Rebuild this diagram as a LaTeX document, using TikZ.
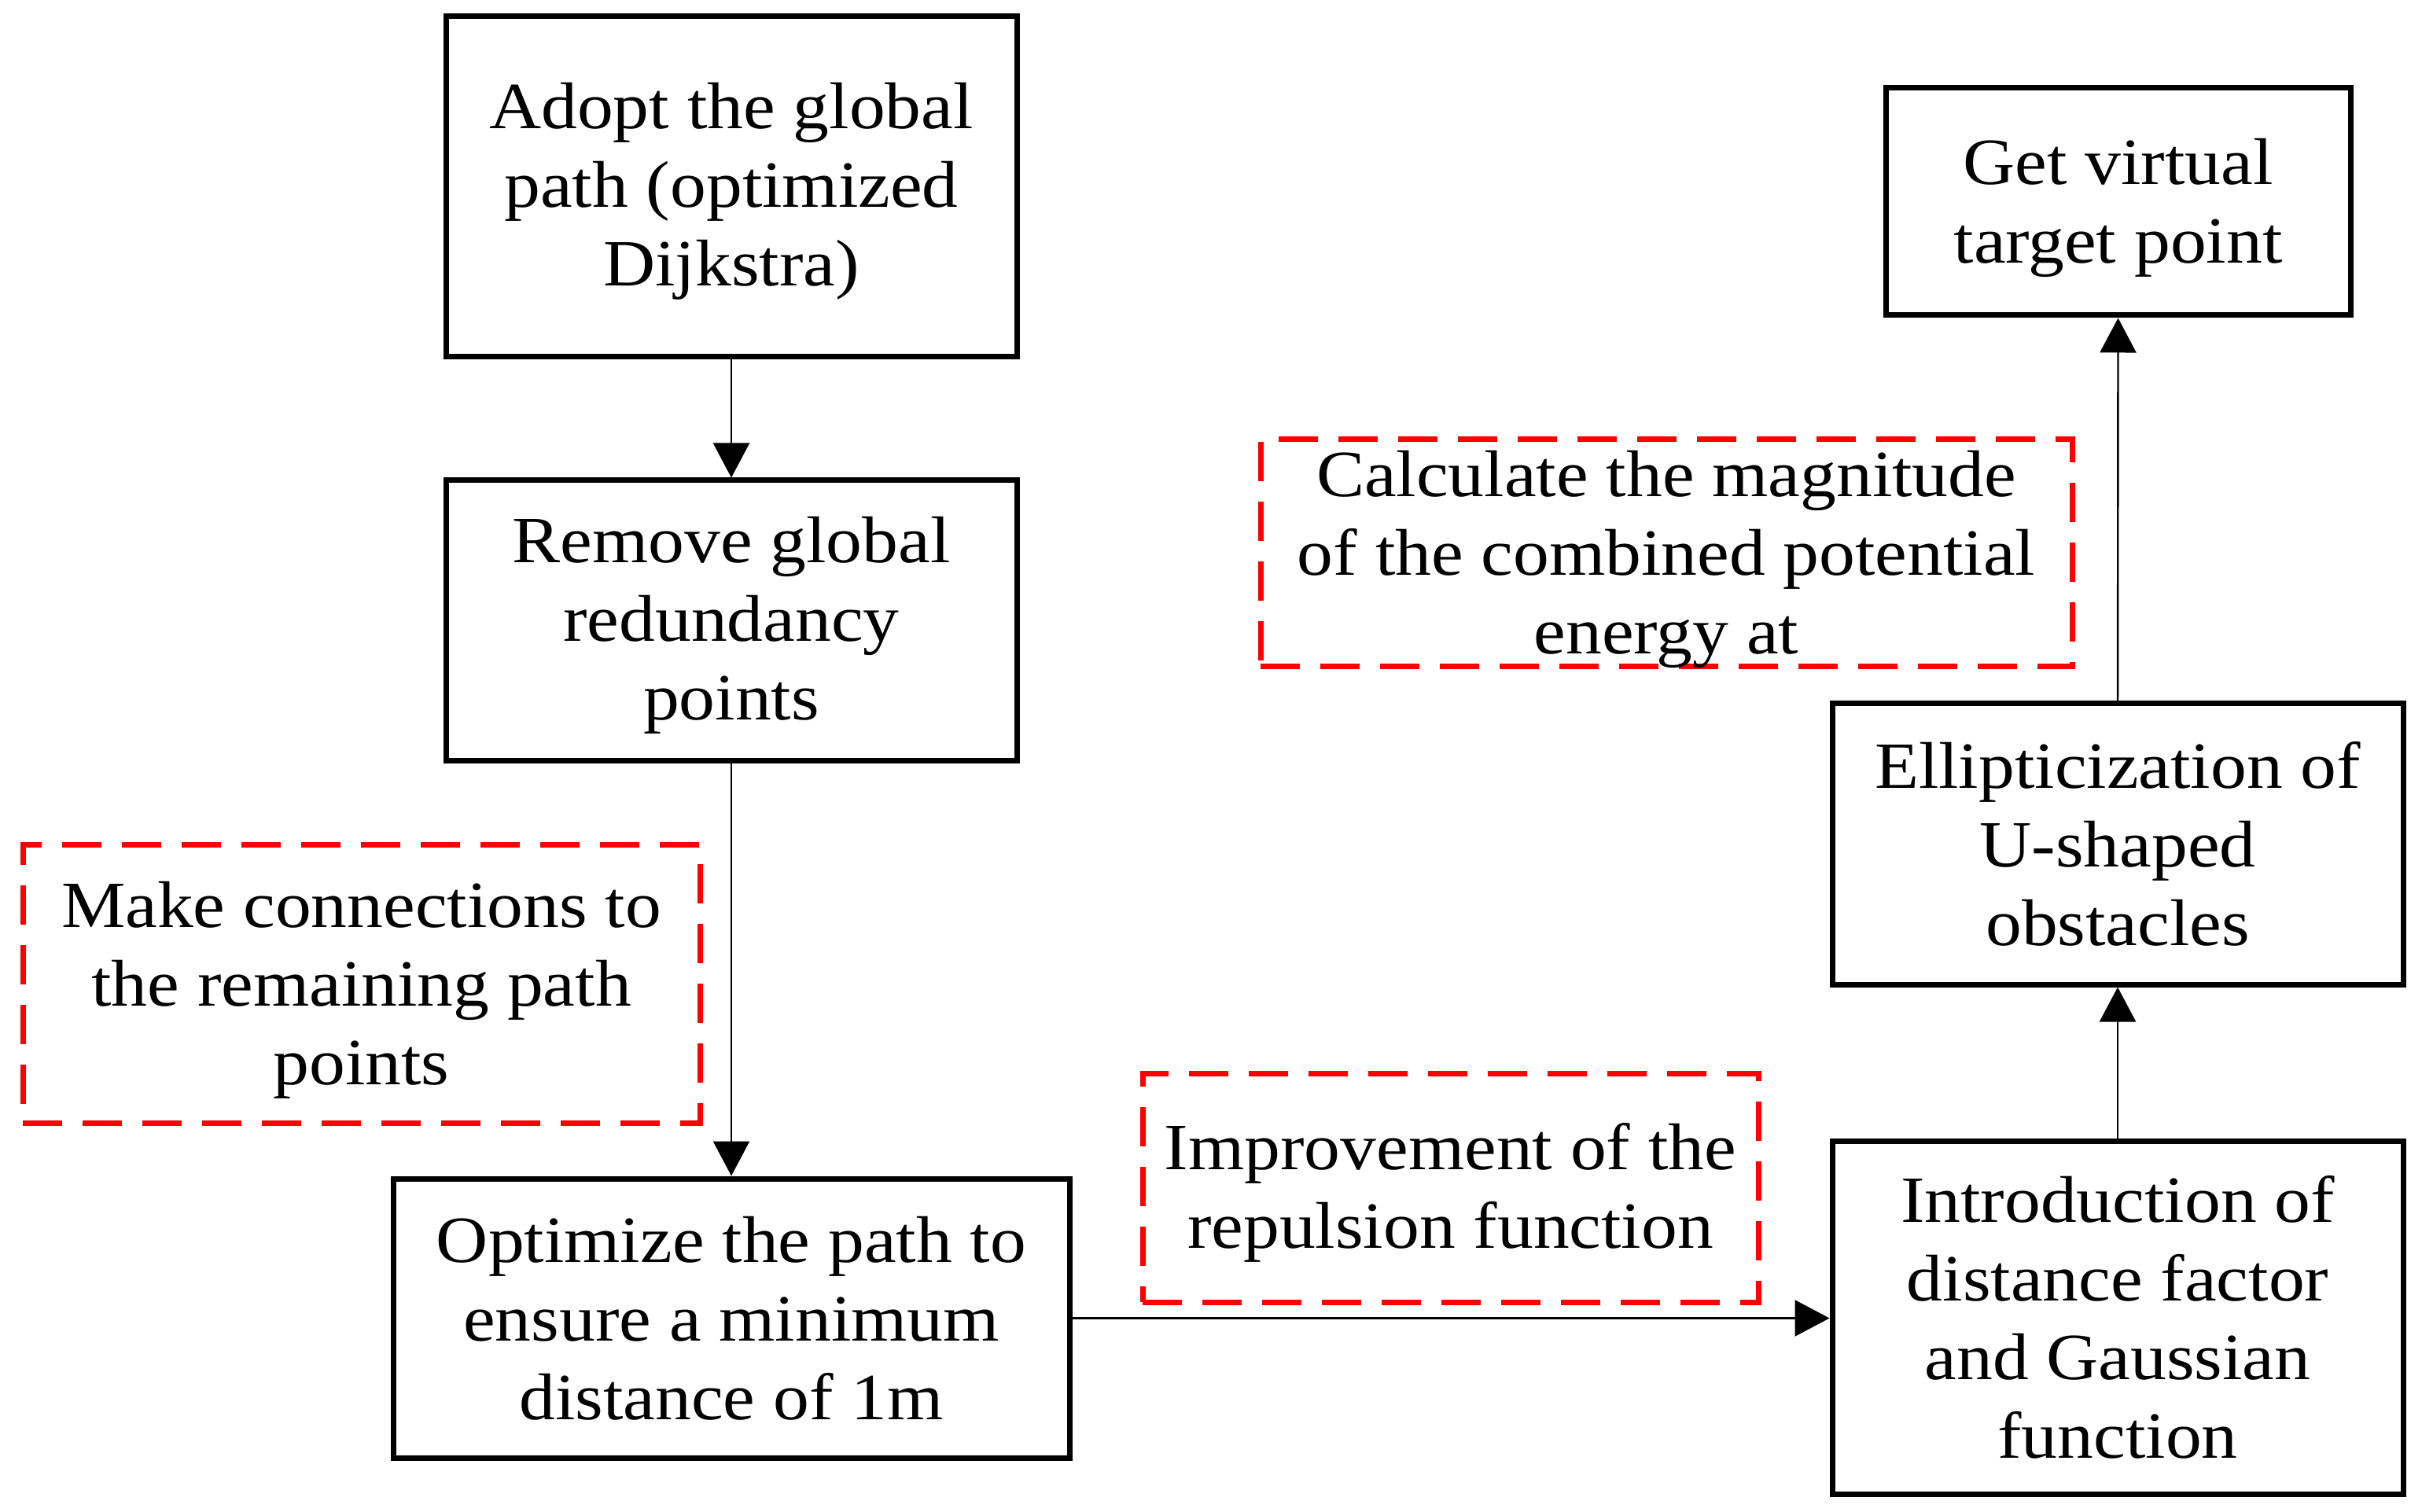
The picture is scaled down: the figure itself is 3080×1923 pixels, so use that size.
\documentclass[tikz,border=0pt]{standalone}
\usepackage{fontspec}
\setmainfont[FakeStretch=1.09]{Liberation Serif}
\usetikzlibrary{arrows.meta}
\begin{document}
\begin{tikzpicture}[x=0.25pt,y=-0.25pt,
  txt/.style={align=center,font=\fontsize{21}{25}\selectfont,inner sep=0pt},
  solidbox/.style={draw=black,line width=1.75pt,inner sep=0pt},
  dashbox/.style={draw=red,line width=1.75pt,dash pattern=on 12.5pt off 6.5pt,inner sep=0pt},
  arr/.style={draw=black,line width=0.6pt,-{Triangle[length=11pt,width=11.5pt]}}]
\useasboundingbox (0,0) rectangle (3080,1923);
% boxes
\node[solidbox,minimum width=181.5pt,minimum height=108.25pt] (A) at (930,237.5) {};
\node[solidbox,minimum width=181.5pt,minimum height=89pt] (B) at (930,789) {};
\node[dashbox,minimum width=215.25pt,minimum height=88.5pt] (C) at (459.5,1251) {};
\node[solidbox,minimum width=215pt,minimum height=88.75pt] (D) at (930,1676.5) {};
\node[dashbox,minimum width=195.75pt,minimum height=72.75pt] (E) at (1844.5,1510.5) {};
\node[solidbox,minimum width=181.5pt,minimum height=112.25pt] (F) at (2693,1675.5) {};
\node[solidbox,minimum width=181.5pt,minimum height=89.25pt] (G) at (2693,1073.5) {};
\node[dashbox,minimum width=258pt,minimum height=72.25pt] (H) at (2119,703.5) {};
\node[solidbox,minimum width=147.75pt,minimum height=72.25pt] (I) at (2693.5,256.5) {};
% texts
\node[txt] (At) at ([yshift=-1.5pt]A.center) {Adopt the global\\path (optimized\\Dijkstra)};
\node[txt] (Bt) at ([yshift=-1.5pt]B.center) {Remove global\\redundancy\\points};
\node[txt] (Ct) at ([yshift=-2pt]C.center) {Make connections to\\the remaining path\\points};
\node[txt] (Dt) at (D.center) {Optimize the path to\\ensure a minimum\\distance of 1m};
\node[txt] (Et) at ([yshift=-1.5pt]E.center) {Improvement of the\\repulsion function};
\node[txt] (Ft) at (F.center) {Introduction of\\distance factor\\and Gaussian\\function};
\node[txt] (Gt) at (G.center) {Ellipticization of\\U-shaped\\obstacles};
\node[txt] (Ht) at ([yshift=-2pt]H.center) {Calculate the magnitude\\of the combined potential\\energy at};
\node[txt] (It) at ([yshift=-2pt]I.center) {Get virtual\\target point};
% connectors
\draw[arr] (A.south) -- (B.north);
\draw[arr] (B.south) -- (D.north);
\draw[arr] (D.east) -- (D.east -| F.west);
\draw[arr] (F.north) -- (G.south);
\draw[arr] (G.north) -- (I.south);
\end{tikzpicture}
\end{document}
